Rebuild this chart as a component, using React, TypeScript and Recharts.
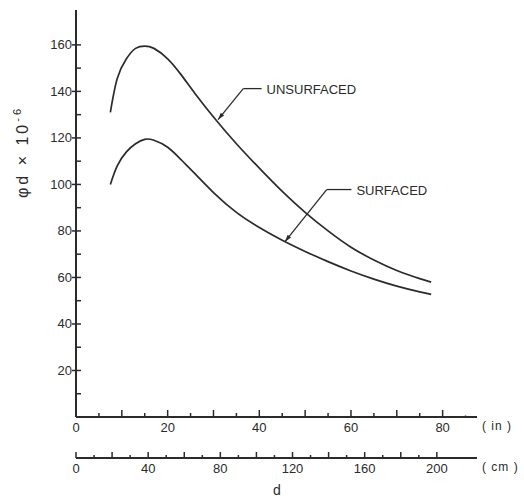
import { LineChart, Line, XAxis, YAxis, ReferenceLine } from "recharts";

// depth d in inches, phi*d values (x 10^-6)
const depthIn = [7.5, 9, 11, 13, 15, 17, 20, 23, 26, 30, 35, 40, 45, 50, 55, 60, 65, 70, 75, 77.5];
const unsurfaced = [131, 145.5, 154, 158.5, 159.5, 158.5, 154, 147, 139, 129, 117.5, 107, 97, 88, 80, 73, 67.5, 63, 59.5, 58];
const surfaced = [100, 108, 114, 117.5, 119.4, 119, 116, 110.5, 104.5, 96.5, 88, 81.5, 76, 71.2, 66.8, 62.8, 59.3, 56.3, 53.8, 52.7];

const inchTicks = [0, 5, 10, 15, 20, 25, 30, 35, 40, 45, 50, 55, 60, 65, 70, 75, 80, 85];
const cmTicks = [0, 10, 20, 30, 40, 50, 60, 70, 80, 90, 100, 110, 120, 130, 140, 150, 160, 170, 180, 190, 200];
const yTicks = [10, 20, 30, 40, 50, 60, 70, 80, 90, 100, 110, 120, 130, 140, 150, 160];

const CM_PER_IN = 2.54;

// leader lines: tip on curve, elbow, end of horizontal stroke
const unsurfacedLeader = [
  { x: 31.0, y: 127.9 },
  { x: 36.5, y: 141.2 },
  { x: 40.5, y: 141.2 },
];
const surfacedLeader = [
  { x: 45.6, y: 75.4 },
  { x: 54.7, y: 97.8 },
  { x: 60.1, y: 97.8 },
];

const data = depthIn.map((d, i) => ({
  d,
  unsurfaced: unsurfaced[i],
  surfaced: surfaced[i],
}));

const INK = "#2b2b2b";
const FONT = "'Liberation Sans', Arial, sans-serif";

const InchTick = ({ x, y, payload }: any) => {
  const v = payload.value;
  const len = v === 85 ? 1.5 : v % 10 === 0 ? 7 : 4;
  return (
    <g>
      {v > 0 && <line x1={x} x2={x} y1={y} y2={y - len} stroke={INK} strokeWidth={1.5} />}
      {v % 20 === 0 && (
        <text x={x} y={y + 15} textAnchor="middle" fontSize={13} fill={INK} fontFamily={FONT}>
          {v}
        </text>
      )}
    </g>
  );
};

// cm axis shares the inch scale; ticks are placed at cm / 2.54
const CmTick = ({ x, y, payload }: any) => {
  const v = Math.round(payload.value * CM_PER_IN);
  const len = v % 20 === 0 ? 6 : 3;
  return (
    <g>
      <line x1={x} x2={x} y1={y} y2={y - len} stroke={INK} strokeWidth={1.5} />
      {v % 40 === 0 && (
        <text x={x} y={y + 15} textAnchor="middle" fontSize={13} fill={INK} fontFamily={FONT}>
          {v}
        </text>
      )}
    </g>
  );
};

const YTick = ({ x, y, payload }: any) => {
  const v = payload.value;
  const major = v % 20 === 0;
  return (
    <g>
      <line x1={major ? x - 4 : x} x2={x + 5} y1={y} y2={y} stroke={INK} strokeWidth={1.5} />
      {major && (
        <text x={x - 4} y={y} dy={4.5} textAnchor="end" fontSize={13} fill={INK} fontFamily={FONT}>
          {v}
        </text>
      )}
    </g>
  );
};

const YTitle = ({ viewBox }: any) => {
  const cx = viewBox.x + 23;
  const cy = viewBox.y + 142;
  return (
    <text
      transform={`translate(${cx}, ${cy}) rotate(-90)`}
      x={0}
      y={5}
      textAnchor="middle"
      fontSize={16}
      letterSpacing={3}
      fill={INK}
      fontFamily={FONT}
    >
      φd  ×  10
      <tspan dy={-7} fontSize={11}>
        -6
      </tspan>
    </text>
  );
};

const unitLabel = (text: string, withD: boolean) => ({ viewBox }: any) => (
  <g>
    <text
      x={viewBox.x + viewBox.width + 5}
      y={viewBox.y + 13}
      fontSize={12}
      letterSpacing={1}
      fill={INK}
      fontFamily={FONT}
    >
      {text}
    </text>
    {withD && (
      <text x={277} y={viewBox.y + 37} textAnchor="middle" fontSize={14} fill={INK} fontFamily={FONT}>
        d
      </text>
    )}
  </g>
);

const ArrowLeg = ({ x1, y1, x2, y2 }: any) => {
  const dx = x2 - x1;
  const dy = y2 - y1;
  const len = Math.sqrt(dx * dx + dy * dy) || 1;
  const ux = dx / len;
  const uy = dy / len;
  const bx = x1 + ux * 7;
  const by = y1 + uy * 7;
  return (
    <g>
      <line x1={x1} y1={y1} x2={x2} y2={y2} stroke={INK} strokeWidth={1.3} />
      <polygon
        points={`${x1},${y1} ${bx - uy * 2.2},${by + ux * 2.2} ${bx + uy * 2.2},${by - ux * 2.2}`}
        fill={INK}
      />
    </g>
  );
};

const labelLeg = (text: string) => ({ x1, y1, x2, y2 }: any) => (
  <g>
    <line x1={x1} y1={y1} x2={x2} y2={y2} stroke={INK} strokeWidth={1.3} />
    <text x={x2 + 5} y={y2} dy={5} fontSize={13} fill={INK} fontFamily={FONT}>
      {text}
    </text>
  </g>
);

export default function App() {
  return (
    <div style={{ position: "absolute", left: 0, top: 0, width: 524, height: 499, background: "#fff" }}>
      <LineChart width={524} height={499} data={data} margin={{ top: 10, right: 47, bottom: 0, left: 0 }}>
        <XAxis
          dataKey="d"
          type="number"
          domain={[0, 87.5]}
          allowDataOverflow
          ticks={inchTicks}
          interval={0}
          height={41}
          tickSize={0}
          tickMargin={0}
          tickLine={false}
          tick={InchTick}
          axisLine={{ stroke: INK, strokeWidth: 2 }}
          label={{ content: unitLabel("( in )", false) }}
        />
        <XAxis
          xAxisId="cm"
          dataKey="d"
          type="number"
          domain={[0, 87.5]}
          allowDataOverflow
          ticks={cmTicks.map((c) => c / CM_PER_IN)}
          interval={0}
          height={41}
          tickSize={0}
          tickMargin={0}
          tickLine={false}
          tick={CmTick}
          axisLine={{ stroke: INK, strokeWidth: 2 }}
          label={{ content: unitLabel("( cm )", true) }}
        />
        <YAxis
          type="number"
          domain={[0, 175]}
          allowDataOverflow
          ticks={yTicks}
          interval={0}
          width={76}
          tickSize={0}
          tickMargin={0}
          tickLine={false}
          tick={YTick}
          axisLine={{ stroke: INK, strokeWidth: 2 }}
          label={{ content: YTitle }}
        />
        <Line
          type="natural"
          dataKey="unsurfaced"
          stroke={INK}
          strokeWidth={1.7}
          dot={false}
          isAnimationActive={false}
        />
        <Line
          type="natural"
          dataKey="surfaced"
          stroke={INK}
          strokeWidth={1.7}
          dot={false}
          isAnimationActive={false}
        />
        <ReferenceLine segment={[unsurfacedLeader[0], unsurfacedLeader[1]]} shape={ArrowLeg} />
        <ReferenceLine segment={[unsurfacedLeader[1], unsurfacedLeader[2]]} shape={labelLeg("UNSURFACED")} />
        <ReferenceLine segment={[surfacedLeader[0], surfacedLeader[1]]} shape={ArrowLeg} />
        <ReferenceLine segment={[surfacedLeader[1], surfacedLeader[2]]} shape={labelLeg("SURFACED")} />
      </LineChart>
    </div>
  );
}
